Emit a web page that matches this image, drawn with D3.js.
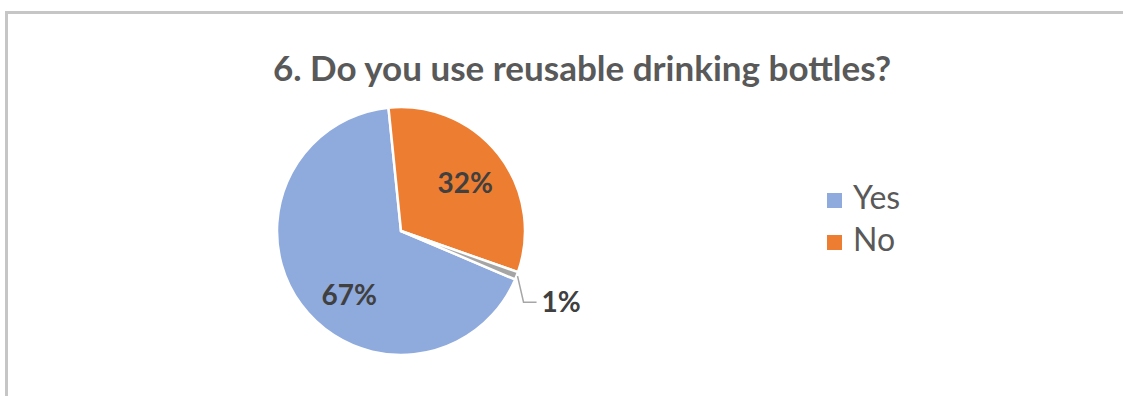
<!DOCTYPE html>
<html>
<head>
<meta charset="utf-8">
<script src="https://cdn.jsdelivr.net/npm/d3@7"></script>
<style>
  html, body { margin: 0; padding: 0; background: #fff; }
  svg { display: block; }
</style>
</head>
<body>
<svg width="1123" height="396"></svg>
<script>
const categories = ["Yes", "No", ""];
const values = [67, 32, 1];
const colors = ["#8FAADC", "#ED7D31", "#A5A5A5"];
const legendNames = ["Yes", "No"];

const svg = d3.select("svg");
const width = +svg.attr("width");
const height = +svg.attr("height");

// chart frame, open to the right and bottom
svg.append("path")
    .attr("d", `M6.5,${height + 5} V12.5 H${width + 5}`)
    .attr("fill", "none")
    .attr("stroke", "#C6C6C6")
    .attr("stroke-width", 3);

svg.append("text")
    .attr("x", 582)
    .attr("y", 81)
    .attr("text-anchor", "middle")
    .attr("font-family", "Lato, 'Open Sans', sans-serif")
    .attr("font-weight", 700)
    .attr("font-size", 35)
    .attr("fill", "#595959")
    .text("6. Do you use reusable drinking bottles?");

const cx = 401, cy = 231, r = 124;
const total = d3.sum(values);

const color = d3.scaleOrdinal().domain(categories).range(colors);

const pie = d3.pie()
    .sort(null)
    .value(d => d.value)
    .startAngle(113 * Math.PI / 180)
    .endAngle((113 + 360) * Math.PI / 180);

const data = categories.map((c, i) => ({ name: c, value: values[i] }));
const arcs = pie(data);

const arc = d3.arc().innerRadius(0).outerRadius(r);
const labelArc = d3.arc().innerRadius(r * 0.66).outerRadius(r * 0.66);

const g = svg.append("g").attr("transform", `translate(${cx},${cy})`);

g.selectAll(".slice")
    .data(arcs)
    .enter().append("path")
    .attr("class", "slice")
    .attr("d", arc)
    .attr("fill", d => color(d.data.name))
    .attr("stroke", "#fff")
    .attr("stroke-width", 2.5)
    .attr("stroke-linejoin", "round");

const pct = d => Math.round(d.value / total * 100) + "%";

// nudges for the two big labels (best-fit placement)
const labelNudge = [[14, 16], [0, 3]];

g.selectAll(".label")
    .data(arcs.slice(0, 2))
    .enter().append("text")
    .attr("class", "label")
    .attr("x", (d, i) => labelArc.centroid(d)[0] + labelNudge[i][0])
    .attr("y", (d, i) => labelArc.centroid(d)[1] + labelNudge[i][1])
    .attr("dy", "0.35em")
    .attr("text-anchor", "middle")
    .attr("font-family", "Lato, 'Open Sans', sans-serif")
    .attr("font-weight", 700)
    .attr("font-size", 28)
    .attr("fill", "#404040")
    .text(d => pct(d.data));

// small slice: label outside with a leader line
const small = arcs[2];
const mid = (small.startAngle + small.endAngle) / 2;
const p0 = [Math.sin(mid) * (r + 1), -Math.cos(mid) * (r + 1)];
const p1 = [p0[0] + 6, p0[1] + 26];
const p2 = [p1[0] + 13, p1[1]];

g.append("polyline")
    .attr("points", [p0, p1, p2].map(p => p.join(",")).join(" "))
    .attr("fill", "none")
    .attr("stroke", "#A6A6A6")
    .attr("stroke-width", 1.5);

g.append("text")
    .attr("x", p2[0] + 5)
    .attr("y", p2[1])
    .attr("dy", "0.35em")
    .attr("font-family", "Lato, 'Open Sans', sans-serif")
    .attr("font-weight", 700)
    .attr("font-size", 28)
    .attr("fill", "#404040")
    .text(pct(small.data));

// legend
const legend = svg.append("g").attr("transform", "translate(827,193)");

const item = legend.selectAll(".item")
    .data(legendNames)
    .enter().append("g")
    .attr("class", "item")
    .attr("transform", (d, i) => `translate(0,${i * 42})`);

item.append("rect")
    .attr("width", 15)
    .attr("height", 15)
    .attr("fill", d => color(d));

item.append("text")
    .attr("x", 26)
    .attr("y", 16)
    .attr("font-family", "Lato, 'Open Sans', sans-serif")
    .attr("font-size", 32)
    .attr("fill", "#595959")
    .text(d => d);
</script>
</body>
</html>
